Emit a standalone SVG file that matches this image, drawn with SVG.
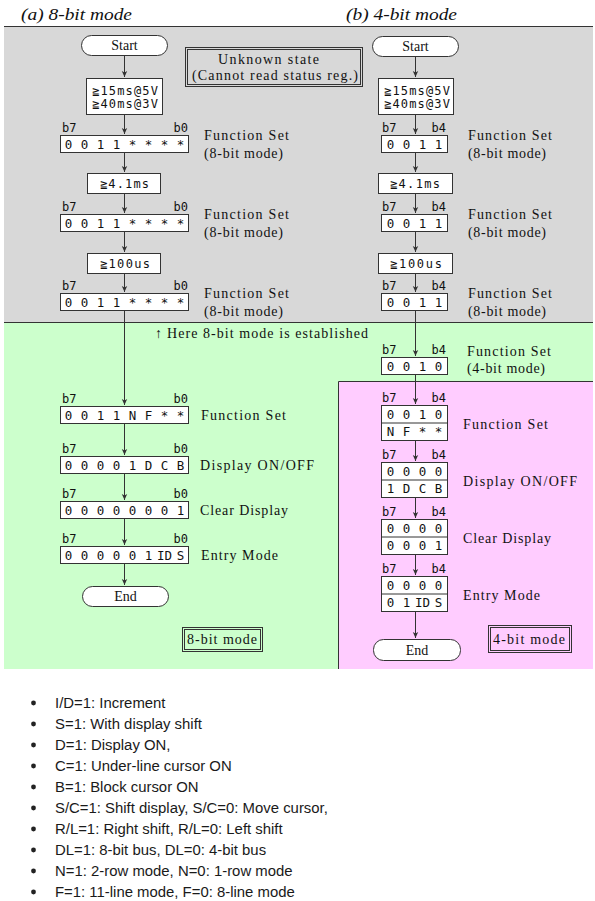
<svg xmlns="http://www.w3.org/2000/svg" width="595" height="901" viewBox="0 0 595 901">
<style>
.ln{stroke:#333;stroke-width:1;fill:none}
.bx{fill:#fff;stroke:#333;stroke-width:1}
.db{fill:none;stroke:#333;stroke-width:1}
.sr{font-family:"Liberation Serif","DejaVu Serif",serif;font-size:14px;fill:#111}
.ti{font-family:"Liberation Serif","DejaVu Serif",serif;font-size:17px;font-style:italic;fill:#111}
.mo{font-family:"DejaVu Sans Mono","Liberation Mono","Noto Sans CJK JP",monospace;font-size:12.5px;fill:#111;text-anchor:middle}
.ml{font-family:"DejaVu Sans Mono","Liberation Mono","Noto Sans CJK JP",monospace;font-size:12px;fill:#111}
.bl{font-family:"Liberation Sans","Arial",sans-serif;font-size:14.9px;fill:#1a1a1a}
</style>
<defs>
<marker id="ah" markerWidth="8" markerHeight="8" refX="6" refY="3.5" orient="auto" markerUnits="userSpaceOnUse">
<path d="M0,0.8 L6,3.5 L0,6.2 L1.6,3.5z" fill="#333"/>
</marker>
</defs>
<rect width="595" height="901" fill="#fff"/>
<g id="regions">
<rect x="4" y="26" width="589" height="297" fill="#d8d8d8"/>
<rect x="4" y="323" width="589" height="346" fill="#ccffcc"/>
<rect x="338.5" y="381.5" width="254.5" height="287.5" fill="#ffccff"/>
<line x1="4" y1="26.5" x2="593" y2="26.5" class="ln"/>
<line x1="4" y1="322.5" x2="593" y2="322.5" class="ln"/>
<polyline points="338.5,669 338.5,381.5 593,381.5" class="ln"/>
</g>
<g id="titles">
<text class="ti" x="21" y="20" textLength="111" lengthAdjust="spacingAndGlyphs">(a) 8-bit mode</text>
<text class="ti" x="346" y="20" textLength="111" lengthAdjust="spacingAndGlyphs">(b) 4-bit mode</text>
</g>
<g id="unknown">
<rect x="185.5" y="47.5" width="177" height="39" class="db"/>
<rect x="187.5" y="49.5" width="173" height="35" class="db"/>
<text class="sr" x="218" y="64" textLength="101">Unknown state</text>
<text class="sr" x="192" y="80" textLength="166">(Cannot read status reg.)</text>
</g>
<g id="connectors">
<line x1="124.5" y1="55.5" x2="124.5" y2="77" class="ln" marker-end="url(#ah)"/>
<line x1="124.5" y1="114.5" x2="124.5" y2="134" class="ln" marker-end="url(#ah)"/>
<line x1="124.5" y1="152.5" x2="124.5" y2="172" class="ln" marker-end="url(#ah)"/>
<line x1="124.5" y1="193.5" x2="124.5" y2="213" class="ln" marker-end="url(#ah)"/>
<line x1="124.5" y1="231.5" x2="124.5" y2="252" class="ln" marker-end="url(#ah)"/>
<line x1="124.5" y1="273.5" x2="124.5" y2="292" class="ln" marker-end="url(#ah)"/>
<line x1="124.5" y1="310.5" x2="124.5" y2="405" class="ln" marker-end="url(#ah)"/>
<line x1="124.5" y1="423.5" x2="124.5" y2="455" class="ln" marker-end="url(#ah)"/>
<line x1="124.5" y1="473.5" x2="124.5" y2="500" class="ln" marker-end="url(#ah)"/>
<line x1="124.5" y1="518.5" x2="124.5" y2="545" class="ln" marker-end="url(#ah)"/>
<line x1="124.5" y1="563.5" x2="124.5" y2="585" class="ln" marker-end="url(#ah)"/>
<line x1="415.5" y1="56.5" x2="415.5" y2="77" class="ln" marker-end="url(#ah)"/>
<line x1="415.5" y1="114.5" x2="415.5" y2="134" class="ln" marker-end="url(#ah)"/>
<line x1="415.5" y1="152.5" x2="415.5" y2="172" class="ln" marker-end="url(#ah)"/>
<line x1="415.5" y1="193.5" x2="415.5" y2="213" class="ln" marker-end="url(#ah)"/>
<line x1="415.5" y1="231.5" x2="415.5" y2="252" class="ln" marker-end="url(#ah)"/>
<line x1="415.5" y1="273.5" x2="415.5" y2="292" class="ln" marker-end="url(#ah)"/>
<line x1="415.5" y1="310.5" x2="415.5" y2="356" class="ln" marker-end="url(#ah)"/>
<line x1="415.5" y1="374.5" x2="415.5" y2="404" class="ln" marker-end="url(#ah)"/>
<line x1="415.5" y1="440.5" x2="415.5" y2="461" class="ln" marker-end="url(#ah)"/>
<line x1="415.5" y1="497.5" x2="415.5" y2="518" class="ln" marker-end="url(#ah)"/>
<line x1="415.5" y1="554.5" x2="415.5" y2="575" class="ln" marker-end="url(#ah)"/>
<line x1="415.5" y1="611.5" x2="415.5" y2="638" class="ln" marker-end="url(#ah)"/>
</g>
<g id="a-start">
<rect x="81.5" y="35.5" width="86" height="20" rx="10" class="bx"/>
<text class="sr" x="124.5" y="50" text-anchor="middle">Start</text>
</g>
<g id="a-wait1">
<rect x="86.5" y="78.5" width="76" height="36" class="bx"/>
<text class="ml" x="92" y="94.5" textLength="66">≧15ms@5V</text>
<text class="ml" x="92" y="107.5" textLength="66">≧40ms@3V</text>
</g>
<g id="a-fs1">
<text class="ml" x="62" y="132">b7</text><text class="ml" x="188" y="132" text-anchor="end">b0</text>
<rect x="60.5" y="135.5" width="128" height="17" class="bx"/>
<text class="mo" x="68.5 84.5 100.5 116.5 132.5 148.5 164.5 180.5" y="148.5">0011****</text>
<text class="sr" x="204" y="140" textLength="85">Function Set</text>
<text class="sr" x="204" y="158" textLength="79">(8-bit mode)</text>
</g>
<g id="a-wait2">
<rect x="87.5" y="173.5" width="73" height="20" class="bx"/>
<text class="ml" x="100" y="188" textLength="49">≧4.1ms</text>
</g>
<g id="a-fs2">
<text class="ml" x="62" y="211">b7</text><text class="ml" x="188" y="211" text-anchor="end">b0</text>
<rect x="60.5" y="214.5" width="128" height="17" class="bx"/>
<text class="mo" x="68.5 84.5 100.5 116.5 132.5 148.5 164.5 180.5" y="227.5">0011****</text>
<text class="sr" x="204" y="219" textLength="85">Function Set</text>
<text class="sr" x="204" y="237" textLength="79">(8-bit mode)</text>
</g>
<g id="a-wait3">
<rect x="87.5" y="253.5" width="73" height="20" class="bx"/>
<text class="ml" x="100" y="268" textLength="50">≧100us</text>
</g>
<g id="a-fs3">
<text class="ml" x="62" y="290">b7</text><text class="ml" x="188" y="290" text-anchor="end">b0</text>
<rect x="60.5" y="293.5" width="128" height="17" class="bx"/>
<text class="mo" x="68.5 84.5 100.5 116.5 132.5 148.5 164.5 180.5" y="306.5">0011****</text>
<text class="sr" x="204" y="298" textLength="85">Function Set</text>
<text class="sr" x="204" y="316" textLength="79">(8-bit mode)</text>
</g>
<g id="note">
<text class="sr" x="155" y="338">↑</text>
<text class="sr" x="167" y="338" textLength="201">Here 8-bit mode is established</text>
</g>
<g id="a-fs">
<text class="ml" x="62" y="403">b7</text><text class="ml" x="188" y="403" text-anchor="end">b0</text>
<rect x="60.5" y="406.5" width="128" height="17" class="bx"/>
<text class="mo" x="68.5 84.5 100.5 116.5 132.5 148.5 164.5 180.5" y="419.5">0011NF**</text>
<text class="sr" x="201" y="420" textLength="85">Function Set</text>
</g>
<g id="a-disp">
<text class="ml" x="62" y="453">b7</text><text class="ml" x="188" y="453" text-anchor="end">b0</text>
<rect x="60.5" y="456.5" width="128" height="17" class="bx"/>
<text class="mo" x="68.5 84.5 100.5 116.5 132.5 148.5 164.5 180.5" y="469.5">00001DCB</text>
<text class="sr" x="200" y="470" textLength="114">Display ON/OFF</text>
</g>
<g id="a-clear">
<text class="ml" x="62" y="498">b7</text><text class="ml" x="188" y="498" text-anchor="end">b0</text>
<rect x="60.5" y="501.5" width="128" height="17" class="bx"/>
<text class="mo" x="68.5 84.5 100.5 116.5 132.5 148.5 164.5 180.5" y="514.5">00000001</text>
<text class="sr" x="200" y="515" textLength="88">Clear Display</text>
</g>
<g id="a-entry">
<text class="ml" x="62" y="543">b7</text><text class="ml" x="188" y="543" text-anchor="end">b0</text>
<rect x="60.5" y="546.5" width="128" height="17" class="bx"/>
<text class="mo" x="68.5 84.5 100.5 116.5 132.5 148.5" y="559.5">000001<tspan x="164.5">ID</tspan><tspan x="180.5">S</tspan></text>
<text class="sr" x="201" y="560" textLength="77">Entry Mode</text>
</g>
<g id="a-end">
<rect x="82.5" y="586.5" width="86" height="20" rx="10" class="bx"/>
<text class="sr" x="125.5" y="601" text-anchor="middle">End</text>
</g>
<g id="a-label">
<rect x="182.5" y="627.5" width="80" height="24" class="db"/>
<rect x="184.5" y="629.5" width="76" height="20" class="db"/>
<text class="sr" x="187" y="644" textLength="70">8-bit mode</text>
</g>
<g id="b-start">
<rect x="372.5" y="36.5" width="86" height="20" rx="10" class="bx"/>
<text class="sr" x="415.5" y="51" text-anchor="middle">Start</text>
</g>
<g id="b-wait1">
<rect x="378.5" y="78.5" width="75" height="36" class="bx"/>
<text class="ml" x="384" y="94.5" textLength="66">≧15ms@5V</text>
<text class="ml" x="384" y="107.5" textLength="66">≧40ms@3V</text>
</g>
<g id="b-fs1">
<text class="ml" x="382" y="132">b7</text><text class="ml" x="446" y="132" text-anchor="end">b4</text>
<rect x="381.5" y="135.5" width="66" height="17" class="bx"/>
<text class="mo" x="390.5 406.5 422.5 438.5" y="148.5">0011</text>
<text class="sr" x="468" y="140" textLength="84">Function Set</text>
<text class="sr" x="468" y="158" textLength="78">(8-bit mode)</text>
</g>
<g id="b-wait2">
<rect x="378.5" y="173.5" width="74" height="20" class="bx"/>
<text class="ml" x="390" y="188" textLength="50">≧4.1ms</text>
</g>
<g id="b-fs2">
<text class="ml" x="382" y="211">b7</text><text class="ml" x="446" y="211" text-anchor="end">b4</text>
<rect x="381.5" y="214.5" width="66" height="17" class="bx"/>
<text class="mo" x="390.5 406.5 422.5 438.5" y="227.5">0011</text>
<text class="sr" x="468" y="219" textLength="84">Function Set</text>
<text class="sr" x="468" y="237" textLength="78">(8-bit mode)</text>
</g>
<g id="b-wait3">
<rect x="378.5" y="253.5" width="74" height="20" class="bx"/>
<text class="ml" x="390" y="268" textLength="52">≧100us</text>
</g>
<g id="b-fs3">
<text class="ml" x="382" y="290">b7</text><text class="ml" x="446" y="290" text-anchor="end">b4</text>
<rect x="381.5" y="293.5" width="66" height="17" class="bx"/>
<text class="mo" x="390.5 406.5 422.5 438.5" y="306.5">0011</text>
<text class="sr" x="468" y="298" textLength="84">Function Set</text>
<text class="sr" x="468" y="316" textLength="78">(8-bit mode)</text>
</g>
<g id="b-fs4">
<text class="ml" x="382" y="354">b7</text><text class="ml" x="446" y="354" text-anchor="end">b4</text>
<rect x="381.5" y="357.5" width="66" height="17" class="bx"/>
<text class="mo" x="390.5 406.5 422.5 438.5" y="370.5">0010</text>
<text class="sr" x="467" y="356" textLength="84">Function Set</text>
<text class="sr" x="467" y="373" textLength="78">(4-bit mode)</text>
</g>
<g id="b-fs">
<text class="ml" x="382" y="402">b7</text><text class="ml" x="446" y="402" text-anchor="end">b4</text>
<rect x="381.5" y="405.5" width="66" height="35" class="bx"/>
<line x1="381.5" y1="423" x2="447.5" y2="423" class="ln"/>
<text class="mo" x="390.5 406.5 422.5 438.5" y="418.5">0010</text>
<text class="mo" x="390.5 406.5 422.5 438.5" y="436">NF**</text>
<text class="sr" x="463" y="429" textLength="85">Function Set</text>
</g>
<g id="b-disp">
<text class="ml" x="382" y="459">b7</text><text class="ml" x="446" y="459" text-anchor="end">b4</text>
<rect x="381.5" y="462.5" width="66" height="35" class="bx"/>
<line x1="381.5" y1="480" x2="447.5" y2="480" class="ln"/>
<text class="mo" x="390.5 406.5 422.5 438.5" y="475.5">0000</text>
<text class="mo" x="390.5 406.5 422.5 438.5" y="493">1DCB</text>
<text class="sr" x="463" y="486" textLength="114">Display ON/OFF</text>
</g>
<g id="b-clear">
<text class="ml" x="382" y="516">b7</text><text class="ml" x="446" y="516" text-anchor="end">b4</text>
<rect x="381.5" y="519.5" width="66" height="35" class="bx"/>
<line x1="381.5" y1="537" x2="447.5" y2="537" class="ln"/>
<text class="mo" x="390.5 406.5 422.5 438.5" y="532.5">0000</text>
<text class="mo" x="390.5 406.5 422.5 438.5" y="550">0001</text>
<text class="sr" x="463" y="543" textLength="88">Clear Display</text>
</g>
<g id="b-entry">
<text class="ml" x="382" y="573">b7</text><text class="ml" x="446" y="573" text-anchor="end">b4</text>
<rect x="381.5" y="576.5" width="66" height="35" class="bx"/>
<line x1="381.5" y1="594" x2="447.5" y2="594" class="ln"/>
<text class="mo" x="390.5 406.5 422.5 438.5" y="589.5">0000</text>
<text class="mo" x="390.5 406.5" y="607">01<tspan x="422.5">ID</tspan><tspan x="438.5">S</tspan></text>
<text class="sr" x="463" y="600" textLength="77">Entry Mode</text>
</g>
<g id="b-end">
<rect x="373.5" y="639.5" width="87" height="21" rx="10" class="bx"/>
<text class="sr" x="417" y="655" text-anchor="middle">End</text>
</g>
<g id="b-label">
<rect x="488.5" y="625.5" width="83" height="27" class="db"/>
<rect x="490.5" y="627.5" width="79" height="23" class="db"/>
<text class="sr" x="493" y="644" textLength="72">4-bit mode</text>
</g>
<g id="legend">
<g fill="#222">
<circle cx="33.5" cy="703" r="2.4"/><circle cx="33.5" cy="724" r="2.4"/><circle cx="33.5" cy="745" r="2.4"/><circle cx="33.5" cy="766" r="2.4"/><circle cx="33.5" cy="787" r="2.4"/>
<circle cx="33.5" cy="808" r="2.4"/><circle cx="33.5" cy="829" r="2.4"/><circle cx="33.5" cy="850" r="2.4"/><circle cx="33.5" cy="871" r="2.4"/><circle cx="33.5" cy="892" r="2.4"/>
</g>
<text class="bl" x="55" y="708">I/D=1: Increment</text>
<text class="bl" x="55" y="729">S=1: With display shift</text>
<text class="bl" x="55" y="750">D=1: Display ON,</text>
<text class="bl" x="55" y="771">C=1: Under-line cursor ON</text>
<text class="bl" x="55" y="792">B=1: Block cursor ON</text>
<text class="bl" x="55" y="813">S/C=1: Shift display, S/C=0: Move cursor,</text>
<text class="bl" x="55" y="834">R/L=1: Right shift, R/L=0: Left shift</text>
<text class="bl" x="55" y="855">DL=1: 8-bit bus, DL=0: 4-bit bus</text>
<text class="bl" x="55" y="876">N=1: 2-row mode, N=0: 1-row mode</text>
<text class="bl" x="55" y="897">F=1: 11-line mode, F=0: 8-line mode</text>
</g>
</svg>
